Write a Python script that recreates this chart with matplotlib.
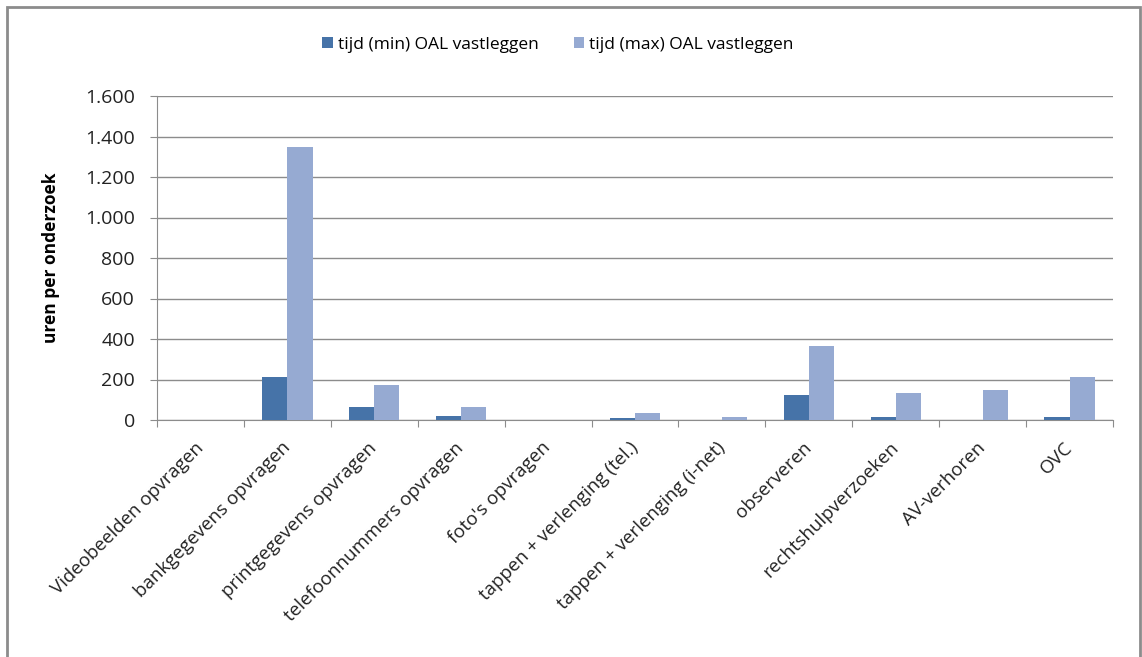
import matplotlib
matplotlib.use("Agg")
import matplotlib.pyplot as plt
import numpy as np
from matplotlib.patches import Rectangle

categories = ["Videobeelden opvragen", "bankgegevens opvragen", "printgegevens opvragen",
              "telefoonnummers opvragen", "foto's opvragen", "tappen + verlenging (tel.)",
              "tappen + verlenging (i-net)", "observeren", "rechtshulpverzoeken",
              "AV-verhoren", "OVC"]
tijd_min = [0, 210, 64, 21, 0, 8, 0, 123, 13, 0, 13]
tijd_max = [0, 1350, 172, 64, 0, 33, 13, 364, 134, 147, 211]
series_labels = ["tijd (min) OAL vastleggen", "tijd (max) OAL vastleggen"]
yticks = [0, 200, 400, 600, 800, 1000, 1200, 1400, 1600]
ytick_labels = ["0", "200", "400", "600", "800", "1.000", "1.200", "1.400", "1.600"]

plt.rcParams['font.family'] = ['Open Sans', 'DejaVu Sans']

W, H = 1142, 657
fig = plt.figure(figsize=(W/100, H/100), dpi=100)
fig.patch.set_facecolor("white")

# outer frame
fig.patches.append(Rectangle((7/W, -0.01), (1140-7)/W, (H-7)/H + 0.01, transform=fig.transFigure,
                             fill=False, edgecolor="#8c8c8c", linewidth=2))

ax = fig.add_axes([157/W, 1-420/H, (1113-157)/W, (420-96)/H])
x = np.arange(len(categories))
bw = 0.29
ax.bar(x - bw/2, tijd_min, bw, color="#4673A8", label=series_labels[0], zorder=3)
ax.bar(x + bw/2, tijd_max, bw, color="#96AAD2", label=series_labels[1], zorder=3)

ax.set_xlim(-0.5, len(categories)-0.5)
ax.set_ylim(0, 1600)
ax.set_yticks(yticks)
ax.set_yticklabels(ytick_labels, fontsize=14, color="#222222")
ax.yaxis.grid(True, color="#8c8c8c", linewidth=1, zorder=0)
ax.set_axisbelow(True)

ax.set_xticks(np.arange(len(categories)+1) - 0.5, minor=False)
ax.set_xticklabels([])
ax.set_xticks(x, minor=True)
ax.set_xticklabels(categories, minor=True, rotation=45, ha="right", va="center",
                   rotation_mode="anchor", fontsize=13.5, color="#222222")
ax.tick_params(axis="x", which="minor", length=0, pad=18)
ax.tick_params(axis="x", which="major", length=5, color="#8c8c8c", direction="out")
ax.tick_params(axis="y", length=5, color="#8c8c8c", direction="out", pad=11)

for s in ["top", "right"]:
    ax.spines[s].set_visible(False)
ax.spines["left"].set_color("#8c8c8c")
ax.spines["bottom"].set_color("#8c8c8c")

ax.set_ylabel("uren per onderzoek", fontsize=12.5, fontweight="bold", labelpad=18)

ax.legend(loc="center", bbox_to_anchor=(558/W, 1-45/H), bbox_transform=fig.transFigure,
          ncol=2, frameon=False, fontsize=12.5, handlelength=0.6, handleheight=0.6,
          handletextpad=0.3, columnspacing=2.0)

fig.savefig("out.png", dpi=100, facecolor="white")
